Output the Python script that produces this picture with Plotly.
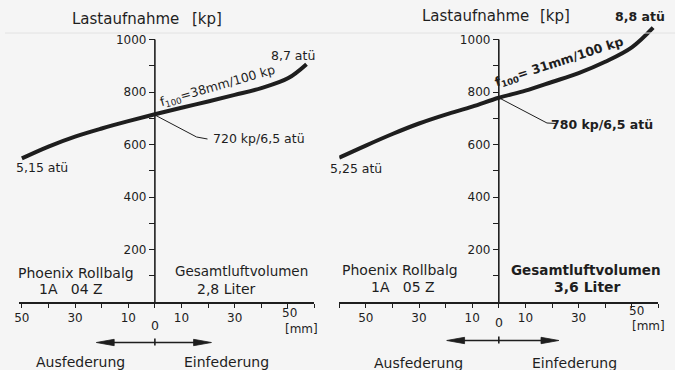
import plotly.graph_objects as go

W, H = 675, 370
INK = "#1e1e1e"
BG = "#f5f5f5"
FONT = "DejaVu Sans"

# ---------------- data ----------------
# Left diagram: Phoenix Rollbalg 1A 04 Z (spring travel in mm, load in kp)
left_mm = [-50, -40, -30, -20, -10, 0, 10, 20, 30, 40, 50, 57]
left_kp = [547, 592, 630, 661, 689, 715, 740, 764, 789, 815, 852, 906]

# Right diagram: Phoenix Rollbalg 1A 05 Z
right_mm = [-60, -50, -40, -30, -20, -10, 0, 10, 20, 30, 40, 50, 58]
right_kp = [550, 596, 640, 680, 714, 744, 778, 805, 838, 872, 915, 970, 1045]

x_tickvals = [-60, -50, -40, -30, -20, -10, 0, 10, 20, 30, 40, 50, 60]
x_ticktext = ["", "50", "", "30", "", "10", "", "10", "", "30", "", "", ""]
y_tickvals = [0, 100, 200, 300, 400, 500, 600, 700, 800, 900, 1000]
y_ticktext = ["", "", "200", "", "400", "", "600", "", "800", "", "1000"]

# ---------------- geometry helpers ----------------
def fx(p):
    return p / W


def fy(p):
    return 1 - p / H


MM_PX = 2.68        # pixels per mm
Y0_PX = 302.0       # pixel row of 0 kp
KP_PX = 0.2625      # pixels per kp
Y_MAX = 1060

L0 = 151.0          # pixel column of 0 mm (left)
R0 = 497.5          # pixel column of 0 mm (right)
L_RANGE = [-51, 60]
R_RANGE = [-60, 60]

ydom = [fy(Y0_PX), fy(Y0_PX - Y_MAX * KP_PX)]
ldom = [fx(L0 + L_RANGE[0] * MM_PX), fx(L0 + L_RANGE[1] * MM_PX)]
rdom = [fx(R0 + R_RANGE[0] * MM_PX), fx(R0 + R_RANGE[1] * MM_PX)]

tickfont = dict(family=FONT, size=12, color=INK)


def xax(dom, rng, anchor):
    return dict(domain=dom, range=rng, anchor=anchor, showline=True, linecolor=INK,
                linewidth=1.6, ticks="outside", ticklen=4, tickwidth=1.4, tickcolor=INK,
                tickvals=x_tickvals, ticktext=x_ticktext, tickfont=tickfont,
                showgrid=False, zeroline=False, fixedrange=True)


def yax(pos):
    return dict(domain=ydom, range=[0, Y_MAX], anchor="free", position=pos,
                showline=False, ticks="outside", ticklen=6, tickwidth=1.4, tickcolor=INK,
                tickvals=y_tickvals, ticktext=y_ticktext, tickfont=tickfont,
                showgrid=False, zeroline=False, fixedrange=True)


fig = go.Figure()
fig.add_trace(go.Scatter(x=left_mm, y=left_kp, mode="lines", xaxis="x", yaxis="y",
                         line=dict(color=INK, width=4, shape="spline", smoothing=1.0),
                         hoverinfo="skip", showlegend=False))
fig.add_trace(go.Scatter(x=right_mm, y=right_kp, mode="lines", xaxis="x2", yaxis="y2",
                         line=dict(color=INK, width=4, shape="spline", smoothing=1.0),
                         hoverinfo="skip", showlegend=False))

shapes = []
# vertical axis lines (0..1000 kp)
shapes.append(dict(type="line", xref="x", yref="y", x0=0, x1=0, y0=0, y1=1000,
                   line=dict(color=INK, width=1.6)))
shapes.append(dict(type="line", xref="x2", yref="y2", x0=0, x1=0, y0=0, y1=1000,
                   line=dict(color=INK, width=1.6)))


def pline(pts, width=1.0, color=INK):
    path = "M " + " L ".join(f"{fx(a):.5f},{fy(b):.5f}" for a, b in pts)
    return dict(type="path", xref="paper", yref="paper", path=path,
                line=dict(color=color, width=width))


def tri(tip, base_x, yc, half=3.2):
    path = (f"M {fx(tip):.5f},{fy(yc):.5f} L {fx(base_x):.5f},{fy(yc - half):.5f} "
            f"L {fx(base_x):.5f},{fy(yc + half):.5f} Z")
    return dict(type="path", xref="paper", yref="paper", path=path,
                fillcolor=INK, line=dict(color=INK, width=0.8))


# leader lines
shapes.append(pline([(151, 115), (193, 137), (204, 139)], 1.0))
shapes.append(pline([(498, 98), (546, 123), (555, 123.5)], 1.0))

# faint scan line at the top
shapes.append(pline([(0, 33), (675, 33)], 1.0, "#e2e2e2"))

# direction arrows
for c, lt, rt, yc in [(151, 92, 208, 342.5), (497.5, 445, 558, 340.5)]:
    shapes.append(pline([(lt + 10, yc), (rt - 10, yc)], 1.6))
    shapes.append(tri(lt, lt + 18, yc))
    shapes.append(tri(rt, rt - 18, yc))
    shapes.append(pline([(c, yc - 4), (c, yc + 3)], 1.6))

annotations = []


def txt(text, x, y, size=14, angle=0, bold=False, xanchor="center"):
    annotations.append(dict(text=text, x=fx(x), y=fy(y), xref="paper", yref="paper",
                            showarrow=False, xanchor=xanchor, yanchor="middle",
                            textangle=angle,
                            font=dict(family=FONT, size=size, color=INK,
                                      weight="bold" if bold else "normal")))


# titles
txt("Lastaufnahme", 121, 19, 15)
txt("[kp]", 204, 19, 15)
txt("Lastaufnahme", 474, 16, 15)
txt("[kp]", 554, 16, 15)

# curve labels, left
txt("5,15 atü", 37, 167, 12.5)
txt("8,7 atü", 290, 55, 12.5)
txt("f<sub>100</sub>=38mm/100 kp", 214, 86, 12.5, angle=-16)
txt("720 kp/6,5 atü", 256, 139, 12.5)

# curve labels, right
txt("5,25 atü", 354, 168, 12.5)
txt("8,8 atü", 640, 17, 12.5, bold=True)
txt("f<sub>100</sub>= 31mm/100 kp", 558, 62, 12.5, angle=-18, bold=True)
txt("780 kp/6,5 atü", 601, 124, 12.5, bold=True)

# bellows notes
txt("Phoenix Rollbalg", 72, 273, 14)
txt("1A   04 Z", 66, 289, 14)
txt("Gesamtluftvolumen", 238, 271, 13.5)
txt("2,8 Liter", 223, 289, 14)
txt("Phoenix Rollbalg", 398, 270, 14)
txt("1A   05 Z", 401, 287, 14)
txt("Gesamtluftvolumen", 585, 270, 13.5, bold=True)
txt("3,6 Liter", 587, 287, 14, bold=True)

# zero labels, the +50 labels and units
txt("0", 151, 325, 12.5)
txt("0", 498, 322, 12.5)
txt("50", 287, 313, 12)
txt("[mm]", 299, 329, 12)
txt("50", 636, 311, 12)
txt("[mm]", 648, 326, 12)

# direction captions
txt("Ausfederung", 76, 362, 14)
txt("Einfederung", 223, 362, 14)
txt("Ausfederung", 417, 363, 14)
txt("Einfederung", 574, 363, 14)

fig.update_layout(
    width=W, height=H, margin=dict(l=0, r=0, t=0, b=0),
    paper_bgcolor=BG, plot_bgcolor=BG,
    xaxis=xax(ldom, L_RANGE, "y"),
    yaxis=yax(fx(L0)),
    xaxis2=xax(rdom, R_RANGE, "y2"),
    yaxis2=yax(fx(R0)),
    shapes=shapes, annotations=annotations,
    showlegend=False,
)

fig.write_html("out.html", config={"displayModeBar": False})
